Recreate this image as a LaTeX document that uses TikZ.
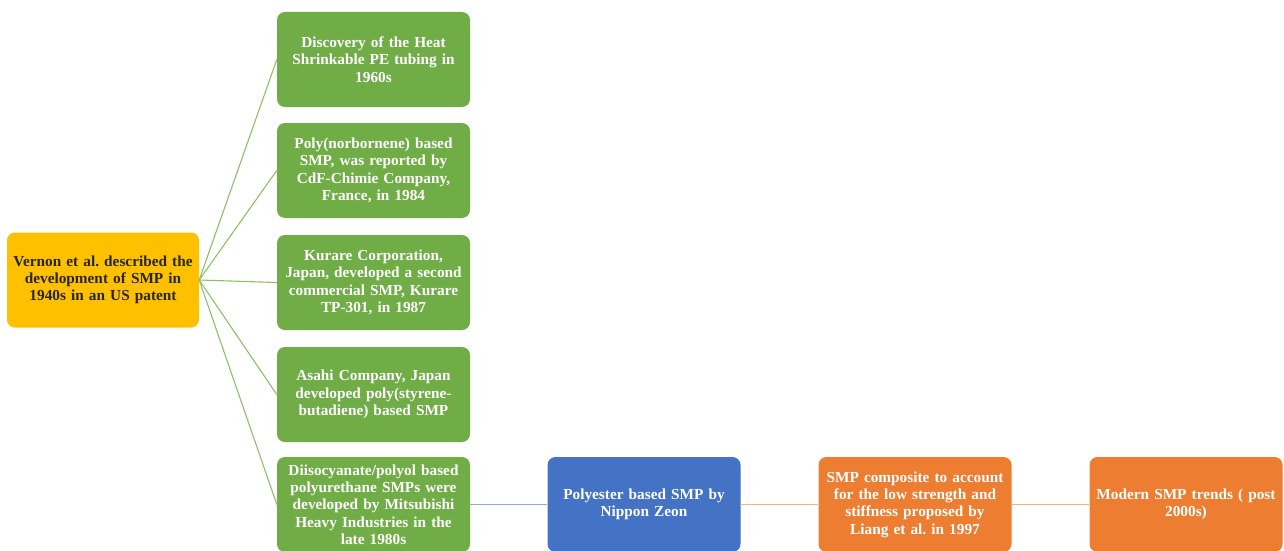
\documentclass[tikz,border=0pt]{standalone}
\usepackage{fontspec}
\setmainfont{Liberation Serif}
\frenchspacing
\definecolor{boxgreen}{HTML}{70AD47}
\definecolor{boxgold}{HTML}{FFC000}
\definecolor{boxblue}{HTML}{4472C4}
\definecolor{boxorange}{HTML}{ED7D31}
\definecolor{lgreen}{HTML}{8CC06A}
\definecolor{lblue}{HTML}{8FAADC}
\definecolor{lorange}{HTML}{F4B183}
\begin{document}
\begin{tikzpicture}[x=1pt,y=1pt,
  card/.style={rounded corners=8pt, minimum width=193pt, minimum height=95pt, text width=192pt, align=center, font=\fontsize{15.3}{17.3}\selectfont\bfseries, text=white, inner sep=0pt},
  gcard/.style={card, fill=boxgreen},
  conn/.style={line width=1.1pt}
]
\useasboundingbox (0,0) rectangle (1284,-551);
\node[card, fill=boxgold, text=black!85, minimum width=192pt] (root) at (103,-280) {Vernon et al. described the\\development of SMP in\\1940s in an US patent};
\node[gcard] (g1) at (373.5,-59.5) {Discovery of the Heat\\Shrinkable PE tubing in\\1960s};
\node[gcard] (g2) at (373.5,-170.5) {Poly(norbornene) based\\SMP, was reported by\\CdF-Chimie Company,\\France, in 1984};
\node[gcard] (g3) at (373.5,-282.5) {Kurare Corporation,\\Japan, developed a second\\commercial SMP, Kurare\\TP-301, in 1987};
\node[gcard] (g4) at (373.5,-394.5) {Asahi Company, Japan\\developed poly(styrene-\\butadiene) based SMP};
\node[gcard] (g5) at (373.5,-504.5) {Diisocyanate/polyol based\\polyurethane SMPs were\\developed by Mitsubishi\\Heavy Industries in the\\late 1980s};
\node[card, fill=boxblue] (b1) at (644,-504.5) {Polyester based SMP by\\Nippon Zeon};
\node[card, fill=boxorange] (o1) at (915,-504.5) {SMP composite to account\\for the low strength and\\stiffness proposed by\\Liang et al. in 1997};
\node[card, fill=boxorange] (o2) at (1186,-504.5) {Modern SMP trends ( post\\2000s)};
\foreach \g in {g1,g2,g3,g4,g5}
  \draw[conn, lgreen] (root.east) -- (\g.west);
\draw[conn, lblue] (g5.east) -- (b1.west);
\draw[conn, lorange] (b1.east) -- (o1.west);
\draw[conn, lorange] (o1.east) -- (o2.west);
\end{tikzpicture}
\end{document}
